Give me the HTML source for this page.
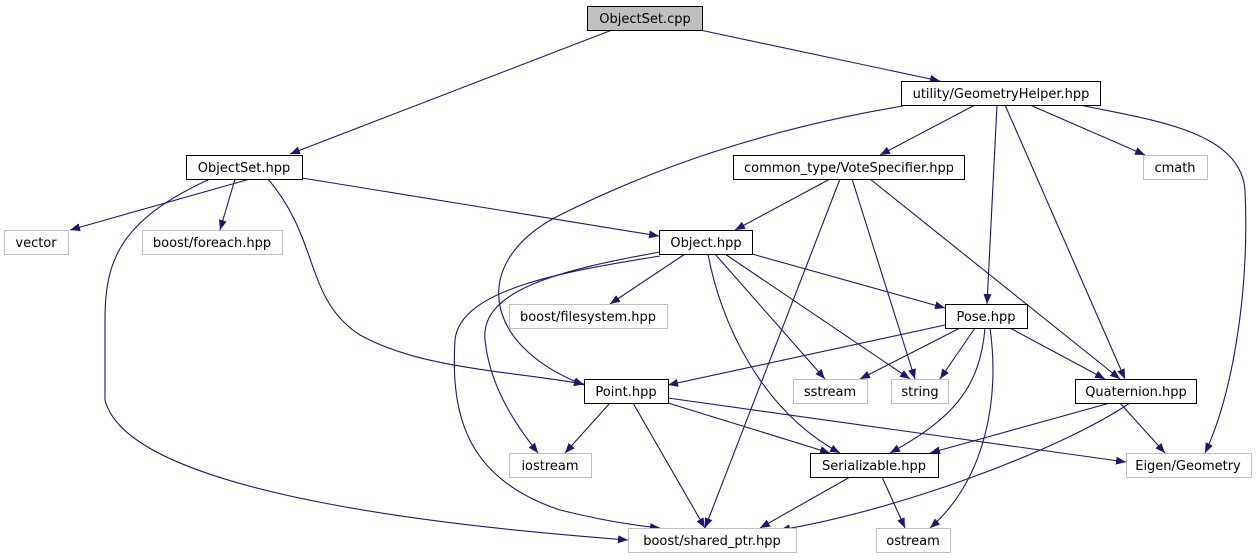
<!DOCTYPE html>
<html><head><meta charset="utf-8"><style>
html,body{margin:0;padding:0;background:#fff;}
svg{display:block;}
text{font-family:"DejaVu Sans","Liberation Sans",sans-serif;font-size:13px;text-anchor:middle;}
</style></head><body>
<svg width="1259" height="560" viewBox="0 0 1259 560" xmlns="http://www.w3.org/2000/svg">
<defs>
<marker id="a" viewBox="0 0 10 8" refX="10" refY="4" markerWidth="10" markerHeight="8" markerUnits="userSpaceOnUse" orient="auto">
<path d="M0,0 L10,4 L0,8 z" fill="#191970"/>
</marker>
</defs>
<g fill="none" stroke="#191970" stroke-width="1.1" marker-end="url(#a)">
<path d="M612,30 L290,154"/>
<path d="M700,30 L940,81"/>
<path d="M903,106 C760,130 650,170 560,215 C470,260 480,345 584,385"/>
<path d="M975,105 L880,155"/>
<path d="M1030,105 L1145,155"/>
<path d="M997,105 L987,304"/>
<path d="M1005,105 L1125,379"/>
<path d="M1080,105 C1150,120 1240,130 1245,190 C1250,300 1230,400 1205,453"/>
<path d="M250,179 L70,230"/>
<path d="M235,179 L220,230"/>
<path d="M302,178 L659,236"/>
<path d="M268,179 C320,240 305,300 360,335 C420,368 500,370 584,384"/>
<path d="M210,179 C120,220 105,260 105,320 L105,400 C130,500 500,530 628,540"/>
<path d="M830,179 L735,230"/>
<path d="M840,179 L705,528"/>
<path d="M852,179 L915,379"/>
<path d="M870,179 L1120,379"/>
<path d="M660,252 C560,270 480,290 485,340 C490,390 520,430 538,453"/>
<path d="M660,256 C560,272 460,290 455,340 C450,420 470,480 560,510 C600,520 630,525 660,528"/>
<path d="M685,254 L610,304"/>
<path d="M708,254 C720,320 760,410 840,453"/>
<path d="M715,254 L825,379"/>
<path d="M725,254 L910,379"/>
<path d="M752,254 L945,308"/>
<path d="M945,325 L668,385"/>
<path d="M960,328 L860,379"/>
<path d="M975,328 L940,379"/>
<path d="M1010,328 L1105,379"/>
<path d="M985,328 C980,390 950,420 890,453"/>
<path d="M990,328 C1000,400 985,480 930,528"/>
<path d="M610,403 L565,453"/>
<path d="M633,403 L705,528"/>
<path d="M668,403 L830,453"/>
<path d="M668,398 L1126,462"/>
<path d="M1110,403 L930,453"/>
<path d="M1120,403 L1165,453"/>
<path d="M1130,403 C1060,450 900,510 780,530"/>
<path d="M850,477 L760,528"/>
<path d="M882,477 L905,528"/>
</g>
<g stroke-width="1">
<rect x="587.5" y="6.5" width="115" height="24" fill="#bfbfbf" stroke="#000"/>
<rect x="901.5" y="81.5" width="199" height="24" fill="#fff" stroke="#000"/>
<rect x="186.5" y="155.5" width="116" height="24" fill="#fff" stroke="#000"/>
<rect x="733.5" y="155.5" width="231" height="24" fill="#fff" stroke="#000"/>
<rect x="1143.5" y="155.5" width="64" height="24" fill="#fff" stroke="#bfbfbf"/>
<rect x="4.5" y="230.5" width="64" height="24" fill="#fff" stroke="#bfbfbf"/>
<rect x="142.5" y="230.5" width="140" height="24" fill="#fff" stroke="#bfbfbf"/>
<rect x="659.5" y="230.5" width="93" height="24" fill="#fff" stroke="#000"/>
<rect x="509.5" y="304.5" width="158" height="24" fill="#fff" stroke="#bfbfbf"/>
<rect x="945.5" y="304.5" width="82" height="24" fill="#fff" stroke="#000"/>
<rect x="584.5" y="379.5" width="84" height="24" fill="#fff" stroke="#000"/>
<rect x="793.5" y="379.5" width="74" height="24" fill="#fff" stroke="#bfbfbf"/>
<rect x="891.5" y="379.5" width="57" height="24" fill="#fff" stroke="#bfbfbf"/>
<rect x="1075.5" y="379.5" width="121" height="24" fill="#fff" stroke="#000"/>
<rect x="509.5" y="453.5" width="82" height="24" fill="#fff" stroke="#bfbfbf"/>
<rect x="810.5" y="453.5" width="128" height="24" fill="#fff" stroke="#000"/>
<rect x="1126.5" y="453.5" width="125" height="24" fill="#fff" stroke="#bfbfbf"/>
<rect x="628.5" y="528.5" width="168" height="24" fill="#fff" stroke="#bfbfbf"/>
<rect x="876.5" y="528.5" width="74" height="24" fill="#fff" stroke="#bfbfbf"/>
</g>
<g fill="#000">
<text x="645" y="23">ObjectSet.cpp</text>
<text x="1001" y="98">utility/GeometryHelper.hpp</text>
<text x="244" y="172">ObjectSet.hpp</text>
<text x="849" y="172">common_type/VoteSpecifier.hpp</text>
<text x="1175" y="172">cmath</text>
<text x="36" y="247">vector</text>
<text x="212" y="247">boost/foreach.hpp</text>
<text x="706" y="247">Object.hpp</text>
<text x="588" y="321">boost/filesystem.hpp</text>
<text x="986" y="321">Pose.hpp</text>
<text x="626" y="396">Point.hpp</text>
<text x="830" y="396">sstream</text>
<text x="920" y="396">string</text>
<text x="1136" y="396">Quaternion.hpp</text>
<text x="550" y="470">iostream</text>
<text x="874" y="470">Serializable.hpp</text>
<text x="1188" y="470">Eigen/Geometry</text>
<text x="712" y="545">boost/shared_ptr.hpp</text>
<text x="913" y="545">ostream</text>
</g>
</svg>
</body></html>
